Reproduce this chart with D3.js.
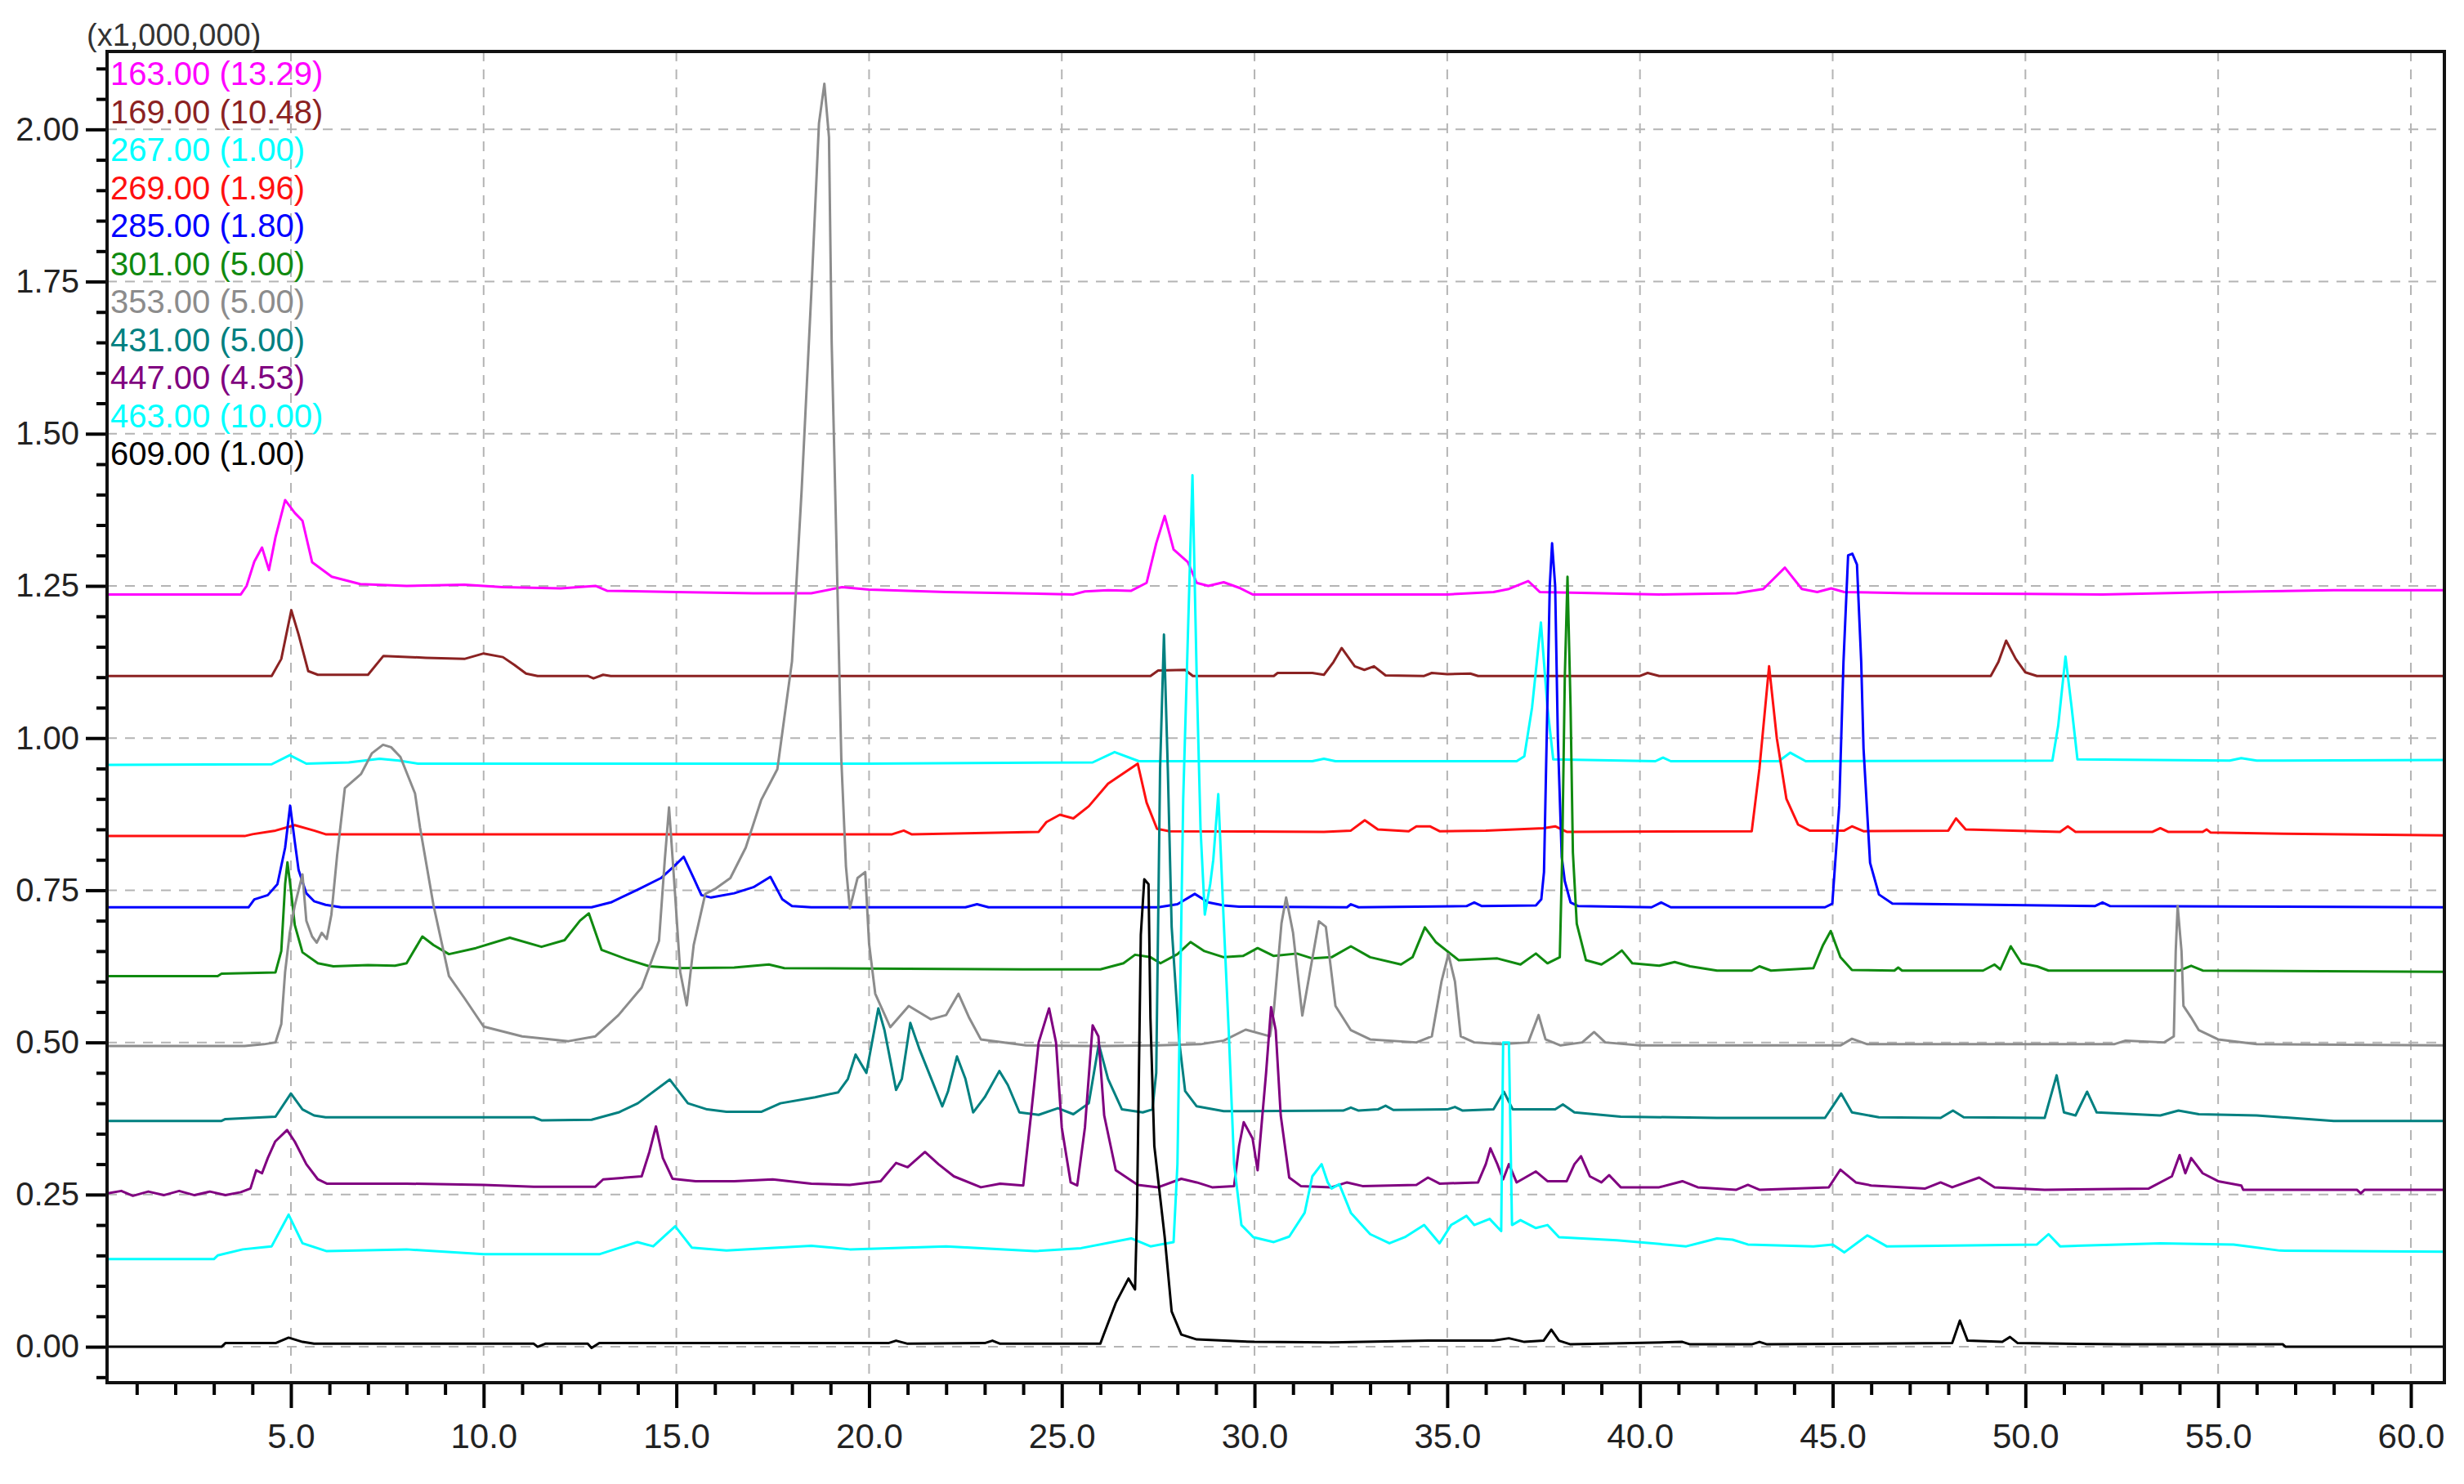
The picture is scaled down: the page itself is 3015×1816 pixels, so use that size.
<!DOCTYPE html>
<html>
<head>
<meta charset="utf-8">
<script src="https://cdn.jsdelivr.net/npm/d3@7"></script>
<style>
  body { margin: 0; background: #fff; }
  text { font-family: "Liberation Sans", Arial, sans-serif; }
</style>
</head>
<body>
<svg id="chart"></svg>
<script>
const svgWidth = 3015;
const svgHeight = 1816;

// legend entries: m/z and scale factor, in the order shown
const ionLabels = ["163.00", "169.00", "267.00", "269.00", "285.00", "301.00", "353.00", "431.00", "447.00", "463.00", "609.00"];
const ionScales = ["13.29", "10.48", "1.00", "1.96", "1.80", "5.00", "5.00", "5.00", "4.53", "10.00", "1.00"];
const ionColors = ["#ff00ff", "#8b2222", "#00ffff", "#ff1010", "#0000ff", "#108a10", "#8c8c8c", "#008080", "#800080", "#00ffff", "#000000"];

// traces: [retention time (min), intensity (x1,000,000)]
const mz163 = [[0.25,1.236],[3.7,1.236],[3.85,1.25],[4.05,1.29],[4.25,1.313],[4.43,1.276],[4.6,1.33],[4.85,1.391],[5.1,1.37],[5.3,1.357],[5.55,1.289],[6.06,1.265],[6.8,1.253],[8,1.25],[9.5,1.252],[10.5,1.248],[12,1.246],[12.9,1.25],[13.2,1.242],[15,1.24],[17,1.238],[18.5,1.238],[19.3,1.248],[20,1.244],[22,1.24],[25.3,1.236],[25.6,1.241],[26.2,1.243],[26.8,1.242],[27.2,1.255],[27.45,1.32],[27.67,1.365],[27.9,1.31],[28.27,1.289],[28.5,1.255],[28.8,1.25],[29.2,1.256],[29.6,1.247],[29.95,1.236],[33.5,1.236],[35,1.236],[36.2,1.24],[36.6,1.245],[37.1,1.258],[37.4,1.24],[39,1.238],[40.5,1.236],[42.5,1.238],[43.2,1.245],[43.76,1.28],[44.2,1.245],[44.6,1.24],[44.96,1.246],[45.3,1.24],[47,1.238],[50,1.237],[52,1.236],[55,1.24],[58,1.243],[60.87,1.243]];
const mz169 = [[0.25,1.102],[4.5,1.102],[4.75,1.13],[5.01,1.21],[5.2,1.17],[5.45,1.11],[5.7,1.104],[7.0,1.104],[7.4,1.135],[8.5,1.132],[9.5,1.13],[10.0,1.139],[10.5,1.133],[10.8,1.12],[11.1,1.106],[11.4,1.102],[12.7,1.102],[12.85,1.098],[13.1,1.104],[13.3,1.102],[27.3,1.102],[27.5,1.111],[28.2,1.112],[28.4,1.102],[30.5,1.102],[30.6,1.107],[31.5,1.107],[31.8,1.104],[32.05,1.125],[32.26,1.148],[32.6,1.118],[32.85,1.112],[33.1,1.118],[33.4,1.103],[34.4,1.102],[34.6,1.107],[35.0,1.105],[35.6,1.106],[35.8,1.102],[40.0,1.102],[40.2,1.107],[40.5,1.102],[49.1,1.102],[49.3,1.125],[49.5,1.16],[49.75,1.13],[50.0,1.108],[50.3,1.102],[60.87,1.102]];
const mz267 = [[0.25,0.956],[4.5,0.957],[4.97,0.972],[5.4,0.958],[6.5,0.96],[7.3,0.966],[7.8,0.963],[8.3,0.958],[20,0.958],[25.8,0.96],[26.37,0.977],[27.0,0.962],[31.5,0.962],[31.8,0.966],[32.1,0.962],[36.8,0.962],[37.0,0.97],[37.2,1.05],[37.43,1.19],[37.6,1.05],[37.75,0.965],[40.4,0.962],[40.6,0.968],[40.8,0.962],[43.6,0.962],[43.9,0.976],[44.3,0.962],[50.7,0.963],[50.85,1.02],[51.04,1.134],[51.2,1.05],[51.35,0.965],[55.3,0.963],[55.6,0.967],[56.0,0.963],[60.87,0.964]];
const mz269 = [[0.25,0.839],[3.8,0.839],[4.0,0.842],[4.6,0.848],[5.1,0.857],[5.6,0.848],[5.9,0.842],[20.6,0.842],[20.9,0.848],[21.1,0.842],[24.4,0.846],[24.6,0.862],[24.95,0.874],[25.3,0.868],[25.7,0.888],[26.2,0.925],[26.97,0.958],[27.2,0.894],[27.47,0.851],[27.8,0.847],[31.8,0.846],[32.5,0.848],[32.86,0.865],[33.2,0.85],[34.0,0.847],[34.2,0.855],[34.55,0.855],[34.8,0.847],[36.0,0.848],[37.5,0.852],[37.8,0.855],[38.1,0.846],[42.9,0.847],[43.1,0.95],[43.35,1.118],[43.55,1.0],[43.8,0.9],[44.1,0.858],[44.4,0.848],[45.3,0.848],[45.5,0.855],[45.8,0.847],[48.0,0.848],[48.2,0.868],[48.45,0.85],[50.9,0.846],[51.1,0.855],[51.3,0.846],[53.3,0.846],[53.5,0.852],[53.7,0.846],[54.6,0.846],[54.7,0.85],[54.8,0.845],[56.7,0.843],[60.87,0.84]];
const mz285 = [[0.25,0.722],[3.9,0.722],[4.05,0.735],[4.4,0.742],[4.65,0.76],[4.85,0.82],[4.98,0.889],[5.1,0.83],[5.2,0.783],[5.4,0.745],[5.6,0.732],[5.9,0.726],[6.3,0.722],[12.8,0.722],[13.3,0.73],[14.0,0.751],[14.6,0.77],[14.95,0.79],[15.19,0.805],[15.45,0.77],[15.65,0.742],[15.9,0.738],[16.5,0.745],[17.0,0.755],[17.44,0.772],[17.75,0.735],[18.0,0.724],[18.5,0.722],[22.5,0.722],[22.8,0.727],[23.1,0.722],[27.5,0.722],[28.0,0.727],[28.45,0.744],[28.8,0.73],[29.2,0.725],[29.6,0.723],[32.4,0.722],[32.5,0.727],[32.7,0.722],[35.5,0.724],[35.7,0.73],[35.9,0.724],[37.3,0.725],[37.44,0.735],[37.51,0.78],[37.58,1.0],[37.66,1.25],[37.72,1.32],[37.8,1.25],[37.87,1.0],[37.97,0.805],[38.05,0.765],[38.2,0.73],[38.4,0.724],[40.3,0.722],[40.55,0.73],[40.8,0.722],[44.8,0.722],[44.99,0.728],[45.17,0.889],[45.28,1.125],[45.4,1.3],[45.51,1.303],[45.63,1.285],[45.74,1.125],[45.8,0.983],[45.97,0.795],[46.2,0.743],[46.55,0.728],[51.8,0.724],[52.0,0.73],[52.2,0.724],[60.87,0.722]];
const mz301 = [[0.25,0.609],[3.1,0.609],[3.2,0.613],[4.6,0.615],[4.75,0.65],[4.85,0.76],[4.91,0.796],[5.0,0.75],[5.1,0.693],[5.3,0.648],[5.7,0.63],[6.1,0.625],[7.0,0.627],[7.7,0.626],[8.0,0.63],[8.41,0.674],[8.7,0.66],[9.1,0.645],[9.8,0.655],[10.68,0.672],[11.5,0.657],[12.1,0.668],[12.5,0.7],[12.73,0.712],[13.06,0.652],[13.7,0.637],[14.3,0.625],[15.0,0.622],[16.5,0.623],[17.4,0.628],[17.8,0.622],[24,0.62],[26,0.62],[26.6,0.63],[26.9,0.644],[27.3,0.64],[27.56,0.63],[28.0,0.645],[28.34,0.665],[28.7,0.65],[29.2,0.64],[29.7,0.642],[30.08,0.655],[30.5,0.642],[31.1,0.646],[31.5,0.638],[32.0,0.64],[32.5,0.658],[33.0,0.64],[33.8,0.628],[34.1,0.64],[34.42,0.689],[34.7,0.665],[35.3,0.635],[36.3,0.638],[36.9,0.628],[37.3,0.646],[37.6,0.63],[37.92,0.64],[37.98,0.8],[38.05,1.1],[38.12,1.265],[38.2,1.05],[38.26,0.812],[38.36,0.695],[38.6,0.635],[39.0,0.628],[39.3,0.64],[39.53,0.651],[39.8,0.63],[40.5,0.626],[40.9,0.632],[41.3,0.625],[42.0,0.618],[42.9,0.618],[43.1,0.625],[43.4,0.618],[44.5,0.622],[44.75,0.66],[44.95,0.683],[45.2,0.64],[45.5,0.619],[46.6,0.618],[46.7,0.623],[46.8,0.618],[48.9,0.618],[49.2,0.628],[49.35,0.62],[49.62,0.658],[49.9,0.63],[50.3,0.625],[50.6,0.618],[54.0,0.618],[54.3,0.626],[54.6,0.618],[60.87,0.616]];
const mz353 = [[0.25,0.494],[3.8,0.494],[4.3,0.497],[4.6,0.5],[4.75,0.53],[4.85,0.616],[4.97,0.68],[5.1,0.725],[5.3,0.776],[5.4,0.7],[5.55,0.674],[5.67,0.664],[5.8,0.68],[5.93,0.67],[6.05,0.71],[6.2,0.808],[6.4,0.918],[6.82,0.941],[7.1,0.975],[7.39,0.989],[7.6,0.985],[7.84,0.969],[8.22,0.909],[8.35,0.853],[8.7,0.725],[9.1,0.609],[9.5,0.573],[10.0,0.526],[11.0,0.51],[12.2,0.502],[12.9,0.51],[13.5,0.545],[14.1,0.59],[14.55,0.667],[14.7,0.8],[14.81,0.886],[14.96,0.75],[15.1,0.616],[15.27,0.561],[15.45,0.66],[15.75,0.744],[16.0,0.752],[16.4,0.77],[16.8,0.82],[17.2,0.898],[17.62,0.949],[18.0,1.126],[18.25,1.407],[18.5,1.729],[18.7,2.01],[18.84,2.075],[18.96,1.987],[19.03,1.649],[19.15,1.327],[19.28,0.965],[19.4,0.789],[19.5,0.72],[19.7,0.77],[19.9,0.78],[20.0,0.662],[20.16,0.58],[20.55,0.525],[21.03,0.56],[21.6,0.538],[22.0,0.545],[22.32,0.58],[22.6,0.54],[22.9,0.505],[24.07,0.495],[26,0.494],[27.5,0.495],[28.6,0.497],[29.2,0.503],[29.77,0.521],[30.4,0.51],[30.5,0.552],[30.7,0.696],[30.82,0.738],[31.0,0.68],[31.24,0.544],[31.45,0.62],[31.67,0.699],[31.85,0.69],[32.1,0.56],[32.5,0.52],[33.0,0.505],[34.2,0.5],[34.6,0.51],[34.85,0.6],[35.03,0.645],[35.2,0.6],[35.35,0.51],[35.7,0.5],[36.4,0.497],[37.1,0.5],[37.37,0.545],[37.55,0.505],[37.94,0.495],[38.5,0.5],[38.81,0.517],[39.1,0.5],[40,0.495],[45.2,0.495],[45.5,0.506],[45.9,0.497],[52.3,0.497],[52.6,0.503],[53.6,0.5],[53.85,0.51],[53.9,0.65],[53.95,0.724],[54.05,0.65],[54.1,0.56],[54.3,0.541],[54.5,0.52],[55.0,0.505],[56,0.497],[60.87,0.495]];
const mz431 = [[0.25,0.371],[3.2,0.371],[3.3,0.374],[4.6,0.378],[5.0,0.416],[5.3,0.39],[5.6,0.38],[5.9,0.377],[11.3,0.377],[11.5,0.372],[12.8,0.373],[13.5,0.385],[14.0,0.4],[14.83,0.439],[15.3,0.4],[15.8,0.39],[16.3,0.386],[17.2,0.386],[17.7,0.4],[18.6,0.41],[19.2,0.418],[19.45,0.44],[19.65,0.48],[19.93,0.45],[20.24,0.556],[20.4,0.52],[20.7,0.422],[20.85,0.44],[21.07,0.532],[21.3,0.49],[21.9,0.395],[22.05,0.42],[22.28,0.477],[22.5,0.44],[22.7,0.385],[23.0,0.41],[23.38,0.453],[23.6,0.43],[23.9,0.385],[24.4,0.381],[24.9,0.392],[25.3,0.382],[25.7,0.4],[25.96,0.497],[26.2,0.44],[26.56,0.39],[27.1,0.385],[27.35,0.39],[27.45,0.45],[27.55,0.95],[27.65,1.17],[27.75,0.95],[27.85,0.69],[28.05,0.5],[28.2,0.42],[28.5,0.395],[29.2,0.387],[32.3,0.388],[32.5,0.393],[32.7,0.388],[33.2,0.39],[33.4,0.396],[33.6,0.389],[35.0,0.39],[35.2,0.394],[35.4,0.388],[36.2,0.39],[36.47,0.419],[36.7,0.39],[37.8,0.39],[38.0,0.398],[38.3,0.385],[39.5,0.378],[42.0,0.376],[44.8,0.376],[45.0,0.395],[45.22,0.416],[45.5,0.385],[46.2,0.377],[47.8,0.376],[48.12,0.388],[48.4,0.377],[50.5,0.376],[50.65,0.41],[50.81,0.446],[51.0,0.385],[51.3,0.38],[51.6,0.419],[51.85,0.385],[53.5,0.38],[53.97,0.388],[54.5,0.382],[56.0,0.38],[58.0,0.371],[60.87,0.371]];
const mz447 = [[0.25,0.252],[0.6,0.256],[0.9,0.248],[1.3,0.255],[1.7,0.249],[2.1,0.256],[2.5,0.249],[2.9,0.255],[3.3,0.249],[3.7,0.254],[3.95,0.26],[4.1,0.29],[4.25,0.285],[4.4,0.31],[4.59,0.337],[4.9,0.356],[5.1,0.337],[5.4,0.3],[5.7,0.275],[5.93,0.268],[8.0,0.268],[10.0,0.266],[11.3,0.263],[12.9,0.263],[13.1,0.275],[14.1,0.28],[14.3,0.32],[14.47,0.362],[14.65,0.31],[14.9,0.276],[15.5,0.272],[16.5,0.272],[17.5,0.275],[18.5,0.268],[19.5,0.266],[20.3,0.272],[20.7,0.302],[21.0,0.295],[21.45,0.32],[21.8,0.3],[22.2,0.28],[22.9,0.262],[23.4,0.268],[24.0,0.265],[24.2,0.38],[24.4,0.5],[24.67,0.556],[24.85,0.5],[25.0,0.36],[25.23,0.27],[25.4,0.265],[25.6,0.36],[25.8,0.528],[25.95,0.51],[26.1,0.38],[26.4,0.29],[26.97,0.266],[27.5,0.262],[28.1,0.276],[28.5,0.27],[28.9,0.262],[29.47,0.264],[29.6,0.33],[29.72,0.369],[29.95,0.342],[30.08,0.29],[30.3,0.45],[30.43,0.558],[30.55,0.52],[30.68,0.38],[30.9,0.278],[31.2,0.264],[32.0,0.262],[32.4,0.27],[32.8,0.264],[34.2,0.266],[34.5,0.278],[34.8,0.268],[35.8,0.27],[36.0,0.3],[36.12,0.326],[36.3,0.3],[36.45,0.275],[36.6,0.3],[36.8,0.27],[37.3,0.288],[37.6,0.272],[38.1,0.272],[38.3,0.3],[38.47,0.313],[38.7,0.28],[39.0,0.27],[39.2,0.282],[39.5,0.262],[40.5,0.262],[41.1,0.272],[41.5,0.262],[42.5,0.258],[42.8,0.266],[43.1,0.258],[44.9,0.262],[45.2,0.291],[45.6,0.27],[46.0,0.265],[47.4,0.26],[47.8,0.27],[48.1,0.262],[48.8,0.278],[49.2,0.262],[50.5,0.258],[53.2,0.26],[53.8,0.28],[54.0,0.315],[54.15,0.285],[54.3,0.31],[54.6,0.285],[55.0,0.272],[55.6,0.265],[55.65,0.258],[58.6,0.258],[58.7,0.252],[58.8,0.258],[60.87,0.258]];
const mz463 = [[0.25,0.144],[3.0,0.144],[3.1,0.15],[3.75,0.16],[4.5,0.165],[4.94,0.217],[5.3,0.17],[5.93,0.157],[8,0.16],[10,0.152],[13,0.152],[13.99,0.172],[14.4,0.165],[14.97,0.198],[15.4,0.163],[16.3,0.158],[18.5,0.166],[19.5,0.16],[20.5,0.162],[22,0.165],[24.3,0.157],[25.5,0.162],[26.8,0.178],[27.3,0.165],[27.9,0.172],[28.0,0.3],[28.15,0.9],[28.39,1.432],[28.5,1.1],[28.6,0.85],[28.71,0.71],[28.85,0.76],[28.93,0.8],[29.06,0.908],[29.2,0.7],[29.33,0.52],[29.47,0.3],[29.66,0.2],[29.97,0.18],[30.5,0.172],[30.9,0.181],[31.3,0.22],[31.5,0.28],[31.74,0.3],[31.9,0.27],[32.0,0.26],[32.2,0.267],[32.5,0.22],[33.0,0.185],[33.5,0.17],[33.9,0.18],[34.4,0.2],[34.8,0.17],[35.1,0.2],[35.5,0.215],[35.7,0.2],[36.1,0.21],[36.4,0.19],[36.45,0.5],[36.6,0.5],[36.68,0.2],[36.9,0.208],[37.3,0.195],[37.6,0.2],[37.9,0.18],[39.4,0.175],[41.2,0.165],[42.0,0.178],[42.4,0.176],[42.8,0.168],[44.5,0.165],[45.0,0.168],[45.3,0.155],[45.9,0.183],[46.4,0.165],[50.3,0.168],[50.6,0.185],[50.9,0.165],[53.5,0.17],[55.4,0.168],[56.6,0.158],[60.87,0.156]];
const mz609 = [[0.25,0.0],[3.2,0.0],[3.3,0.006],[4.6,0.006],[4.94,0.015],[5.3,0.008],[5.6,0.005],[11.3,0.005],[11.4,0.0],[11.6,0.005],[12.7,0.005],[12.8,-0.002],[13.0,0.006],[20.5,0.006],[20.7,0.01],[21.0,0.005],[23.0,0.006],[23.2,0.01],[23.4,0.005],[26.0,0.005],[26.08,0.019],[26.4,0.072],[26.73,0.112],[26.9,0.094],[26.95,0.216],[27.05,0.677],[27.14,0.768],[27.25,0.76],[27.3,0.539],[27.4,0.33],[27.67,0.18],[27.85,0.058],[28.1,0.02],[28.5,0.012],[30.0,0.008],[32,0.007],[34.5,0.01],[36.2,0.01],[36.6,0.014],[37.0,0.008],[37.5,0.01],[37.7,0.028],[37.9,0.01],[38.2,0.004],[41.1,0.008],[41.3,0.004],[42.9,0.004],[43.1,0.008],[43.3,0.004],[48.1,0.006],[48.3,0.043],[48.5,0.01],[49.4,0.008],[49.6,0.016],[49.8,0.006],[52.6,0.004],[56.68,0.004],[56.75,0.0],[60.87,0.0]];

const traces = [mz163, mz169, mz267, mz269, mz285, mz301, mz353, mz431, mz447, mz463, mz609];

const yMajor = [0, 0.25, 0.5, 0.75, 1.0, 1.25, 1.5, 1.75, 2.0];
const xMajor = [5, 10, 15, 20, 25, 30, 35, 40, 45, 50, 55, 60];

const margin = { top: 63, right: 24, bottom: 124, left: 131 };
const width = svgWidth - margin.left - margin.right;
const height = svgHeight - margin.top - margin.bottom;

const svg = d3.select("#chart")
  .attr("width", svgWidth)
  .attr("height", svgHeight);

const g = svg.append("g")
  .attr("transform", `translate(${margin.left},${margin.top})`);

const x = d3.scaleLinear().domain([0.23, 60.87]).range([0, width]);
const y = d3.scaleLinear().domain([-0.059, 2.128]).range([height, 0]);

// dashed grid
g.append("g").selectAll("line")
  .data(xMajor)
  .enter().append("line")
  .attr("x1", d => x(d)).attr("x2", d => x(d))
  .attr("y1", 0).attr("y2", height)
  .attr("stroke", "#b4b4b4")
  .attr("stroke-width", 2)
  .attr("stroke-dasharray", "12,10");

g.append("g").selectAll("line")
  .data(yMajor)
  .enter().append("line")
  .attr("x1", 0).attr("x2", width)
  .attr("y1", d => y(d)).attr("y2", d => y(d))
  .attr("stroke", "#b4b4b4")
  .attr("stroke-width", 2)
  .attr("stroke-dasharray", "12,10");

// traces
g.append("clipPath").attr("id", "plotclip")
  .append("rect").attr("width", width).attr("height", height);

const line = d3.line()
  .x(d => x(d[0]))
  .y(d => y(d[1]));

g.append("g")
  .attr("clip-path", "url(#plotclip)")
  .selectAll("path")
  .data(traces)
  .enter().append("path")
  .attr("d", line)
  .attr("fill", "none")
  .attr("stroke", (d, i) => ionColors[i])
  .attr("stroke-width", 3)
  .attr("stroke-linejoin", "round");

// y axis: minor then major ticks
const yMinor = d3.range(-0.05, 2.101, 0.05).filter(v => Math.abs(v / 0.25 - Math.round(v / 0.25)) > 0.01);

g.append("g")
  .attr("class", "y-minor")
  .call(d3.axisLeft(y).tickValues(yMinor).tickSize(13).tickFormat(""))
  .call(a => a.select(".domain").remove())
  .selectAll("line").attr("stroke-width", 4);

g.append("g")
  .attr("class", "y-axis")
  .call(d3.axisLeft(y).tickValues(yMajor).tickSize(26).tickPadding(8).tickFormat(d3.format(".2f")))
  .call(a => a.select(".domain").remove())
  .call(a => a.selectAll("line").attr("stroke-width", 4))
  .selectAll("text")
  .attr("font-size", 40)
  .attr("fill", "#222");

// x axis
const xMinor = d3.range(1, 61).filter(v => v % 5 !== 0);

g.append("g")
  .attr("class", "x-minor")
  .attr("transform", `translate(0,${height})`)
  .call(d3.axisBottom(x).tickValues(xMinor).tickSize(15).tickFormat(""))
  .call(a => a.select(".domain").remove())
  .selectAll("line").attr("stroke-width", 4);

g.append("g")
  .attr("class", "x-axis")
  .attr("transform", `translate(0,${height})`)
  .call(d3.axisBottom(x).tickValues(xMajor).tickSize(31).tickPadding(19).tickFormat(d3.format(".1f")))
  .call(a => a.select(".domain").remove())
  .call(a => a.selectAll("line").attr("stroke-width", 4))
  .selectAll("text")
  .attr("font-size", 42)
  .attr("fill", "#222");

// frame
g.append("rect")
  .attr("width", width)
  .attr("height", height)
  .attr("fill", "none")
  .attr("stroke", "#111")
  .attr("stroke-width", 4);

// scale note above the y axis
svg.append("text")
  .attr("x", 106)
  .attr("y", 56)
  .attr("font-size", 38)
  .attr("fill", "#333")
  .text("(x1,000,000)");

// legend
svg.append("g").selectAll("text")
  .data(ionLabels)
  .enter().append("text")
  .attr("x", 135)
  .attr("y", (d, i) => 104 + i * 46.5)
  .attr("font-size", 40)
  .attr("fill", (d, i) => ionColors[i])
  .text((d, i) => `${d} (${ionScales[i]})`);
</script>
</body>
</html>
